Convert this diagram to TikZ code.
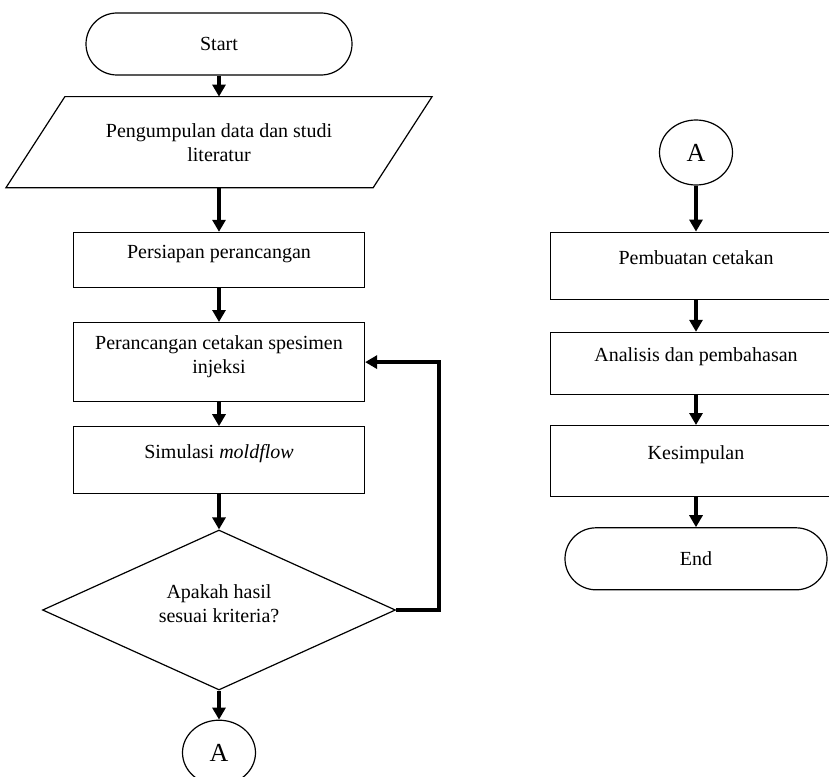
\documentclass[tikz,border=0pt]{standalone}
\usepackage{fontspec}
\setmainfont{Liberation Serif}
\usetikzlibrary{positioning,shapes.geometric,arrows.meta}

\begin{document}
\begin{tikzpicture}[x=1pt, y=-1pt, font=\fontsize{20}{24}\selectfont,
    every node/.style={line width=1.2pt},
    terminal/.style={draw, rectangle, rounded corners=31pt, minimum height=62pt},
    databox/.style={rectangle, minimum width=366pt, minimum height=90pt, align=center},
    process/.style={draw, rectangle, minimum width=291pt, align=center, text depth=17pt},
    choice/.style={draw, diamond, aspect=2.2, minimum width=353pt, minimum height=160pt,
        align=center, inner sep=0pt, text depth=12pt},
    connector/.style={draw, ellipse, minimum width=73pt, minimum height=65pt, inner sep=0pt,
        font=\fontsize{26}{30}\selectfont},
    flow/.style={line width=3.5pt, -{Triangle[width=13pt,length=12pt]}}]
        \useasboundingbox (0,0) rectangle (829,776);

        % left column
        \node (start) [terminal, minimum width=266pt] at (219,44) {Start};
        \node (pengumpulan) [databox, below=21pt of start] {Pengumpulan data dan studi\\literatur};
        \draw[line width=1.2pt] ([xshift=29.5pt]pengumpulan.north west) -- ([xshift=29.5pt]pengumpulan.north east)
            -- ([xshift=-29.5pt]pengumpulan.south east) -- ([xshift=-29.5pt]pengumpulan.south west) -- cycle;
        \node (persiapan) [process, minimum height=55pt, below=44pt of pengumpulan] {Persiapan perancangan};
        \node (perancangan) [process, minimum height=79pt, text depth=15pt, below=34pt of persiapan] {Perancangan cetakan spesimen\\injeksi};
        \node (simulasi) [process, minimum height=67pt, below=24pt of perancangan] {Simulasi \textit{moldflow}};
        \node (check) [choice, below=35pt of simulasi] {Apakah hasil\\sesuai kriteria?};
        \node (conA) [connector, below=29pt of check] {A};

        % right column
        \node (conB) [connector] at (696,152.5) {A};
        \node (pembuatan) [process, minimum height=67pt, below=46pt of conB] {Pembuatan cetakan};
        \node (analisis) [process, minimum height=62pt, below=32pt of pembuatan] {Analisis dan pembahasan};
        \node (kesimpulan) [process, minimum height=71pt, below=30pt of analisis] {Kesimpulan};
        \node (finish) [terminal, minimum width=262pt, below=30pt of kesimpulan] {End};

        \draw[flow] (start) -- (pengumpulan);
        \draw[flow] (pengumpulan) -- (persiapan);
        \draw[flow] (persiapan) -- (perancangan);
        \draw[flow] (perancangan) -- (simulasi);
        \draw[flow] (simulasi) -- (check);
        \draw[flow] (check) -- (conA);
        \draw[flow] (check.east) -- ++(43,0) |- (perancangan.east);

        \draw[flow] (conB) -- (pembuatan);
        \draw[flow] (pembuatan) -- (analisis);
        \draw[flow] (analisis) -- (kesimpulan);
        \draw[flow] (kesimpulan) -- (finish);
    \end{tikzpicture}
\end{document}
